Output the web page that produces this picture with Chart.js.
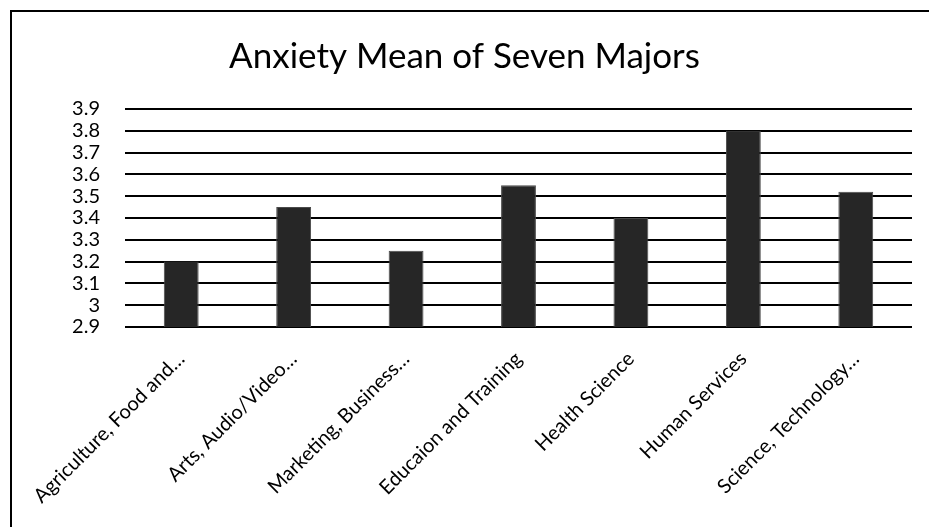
<!DOCTYPE html>
<html>
<head>
<meta charset="utf-8">
<script src="https://cdn.jsdelivr.net/npm/chart.js@4"></script>
<style>
  html, body { margin: 0; padding: 0; background: #fff; overflow: hidden; }
  #wrap { position: relative; width: 929px; height: 527px; }
  #frame { position: absolute; left: 10px; top: 10px; width: 1000px; height: 600px;
           border-left: 2px solid #000; border-top: 2px solid #000; pointer-events: none; }
</style>
</head>
<body>
<div id="wrap">
  <canvas id="chart" width="929" height="527"></canvas>
  <div id="frame"></div>
</div>
<script>
const majors = [
  "Agriculture, Food and…",
  "Arts, Audio/Video…",
  "Marketing, Business…",
  "Educaion and Training",
  "Health Science",
  "Human Services",
  "Science, Technology…"
];
const anxietyMean = [3.2, 3.45, 3.25, 3.55, 3.4, 3.8, 3.52];
const yMin = 2.9;
const yMax = 3.9;
const yStep = 0.1;

const font = "Lato, 'Liberation Sans', sans-serif";

let ctx = document.getElementById("chart").getContext("2d");

new Chart(ctx, {
  type: "bar",
  data: {
    labels: majors,
    datasets: [
      {
        data: anxietyMean,
        backgroundColor: "#262626",
        borderColor: "#4a4a4a",
        borderWidth: 1,
        categoryPercentage: 1,
        barPercentage: 0.31,
      },
    ],
  },
  options: {
    responsive: false,
    animation: false,
    layout: {
      padding: { top: 0, right: 17, bottom: 0, left: 17 },
    },
    plugins: {
      legend: { display: false },
      tooltip: { enabled: false },
      title: {
        display: true,
        text: "Anxiety Mean of Seven Majors",
        color: "#000",
        font: { family: font, size: 35, weight: "normal" },
        padding: { top: 36, bottom: 31 },
      },
    },
    scales: {
      x: {
        grid: { display: false },
        border: { display: false },
        ticks: {
          color: "#000",
          padding: 12,
          font: { family: font, size: 20 },
          minRotation: 45,
          maxRotation: 45,
          autoSkip: false,
        },
        afterFit: (scale) => { scale.height = 200; },
      },
      y: {
        min: yMin,
        max: yMax,
        border: { display: false },
        grid: { color: "#000", lineWidth: 2, drawTicks: false },
        ticks: {
          stepSize: yStep,
          autoSkip: false,
          color: "#000",
          padding: 25,
          font: { family: font, size: 20 },
          // 3.0 is shown as "3" in the original
          callback: (v) => String(Number(v.toFixed(1))),
        },
        afterFit: (scale) => { scale.width = 108; },
      },
    },
  },
});
</script>
</body>
</html>
